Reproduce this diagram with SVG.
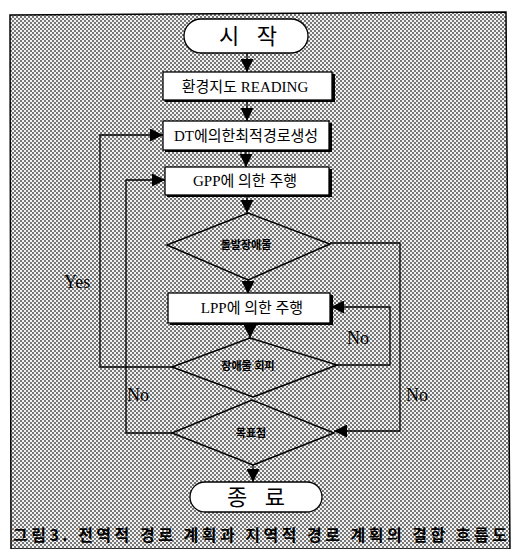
<svg xmlns="http://www.w3.org/2000/svg" width="512" height="549" viewBox="0 0 512 549">
<defs>
<pattern id="dots" width="4" height="4" patternUnits="userSpaceOnUse">
<rect width="4" height="4" fill="#f2f2f2"/>
<rect x="0" y="0" width="2" height="2" fill="#777"/>
<rect x="2" y="2" width="2" height="2" fill="#777"/>
</pattern>
<marker id="ah" viewBox="0 0 10 10" refX="10" refY="5" markerWidth="13" markerHeight="13" markerUnits="userSpaceOnUse" orient="auto">
<path d="M0,0 L10,5 L0,10 z" fill="#000"/>
</marker>
</defs>
<style>
.frame{fill:url(#dots);stroke:#000;stroke-width:1.5}
.box{fill:#fff;stroke:#000;stroke-width:1.3}
.shadow{fill:#000}
.dia{fill:none;stroke:#000;stroke-width:1.5}
.conn{fill:none;stroke:#000;stroke-width:1.3}
.arr{fill:none;stroke:#000;stroke-width:1.3;marker-end:url(#ah)}
.t{font-family:"Liberation Serif","Noto Sans CJK KR",serif;fill:#000;text-anchor:middle}
.big{font-size:22px;letter-spacing:6px}
.mid{font-size:15px}
.small{font-size:11px;font-weight:bold}
.lab{font-family:"Liberation Serif",serif;font-size:18px;fill:#000}
.cap{font-family:"Noto Sans CJK KR","Liberation Sans",sans-serif;font-size:16px;font-weight:bold;fill:#000}
</style>
<polygon class="frame" points="10,15 506,12 510,549 11,549"/>

<g id="connectors">
<line class="arr" x1="247" y1="53" x2="247" y2="72"/>
<line class="arr" x1="247" y1="100" x2="247" y2="121"/>
<line class="arr" x1="246" y1="150" x2="246" y2="167"/>
<line class="arr" x1="247" y1="195" x2="247" y2="213"/>
<line class="arr" x1="248" y1="280" x2="248" y2="294"/>
<line class="arr" x1="250" y1="323" x2="250" y2="338"/>
<line class="arr" x1="253" y1="465" x2="253" y2="482"/>
<polyline class="arr" points="172,367 100,367 100,135 163,135"/>
<polyline class="arr" points="172,433 126,433 126,180 165,180"/>
<polyline class="arr" points="330,243 400,243 400,431 334,431"/>
<polyline class="arr" points="337,365 390,365 390,307 331,307"/>
</g>

<g id="start">
<rect class="box" x="184" y="19" width="124" height="34" rx="17"/>
<text class="t big" x="251" y="44">시 작</text>
</g>
<g id="map">
<rect class="shadow" x="165" y="74" width="170" height="28"/>
<rect class="box" x="163" y="72" width="169" height="28"/>
<text class="t mid" x="245" y="92">환경지도 READING</text>
</g>
<g id="dt">
<rect class="shadow" x="165" y="123" width="167" height="29"/>
<rect class="box" x="163" y="121" width="166" height="29"/>
<text class="t mid" x="246" y="141">DT에의한최적경로생성</text>
</g>
<g id="gpp">
<rect class="shadow" x="167" y="169" width="165" height="28"/>
<rect class="box" x="165" y="167" width="164" height="28"/>
<text class="t mid" x="245" y="186">GPP에 의한 주행</text>
</g>
<g id="obstacle">
<polygon class="dia" points="248,213 330,244 248,280 167,245"/>
<text class="t small" x="246" y="249">돌발장애물</text>
</g>
<g id="lpp">
<rect class="shadow" x="170" y="295" width="163" height="30"/>
<rect class="box" x="168" y="293" width="162" height="30"/>
<text class="t mid" x="252" y="313">LPP에 의한 주행</text>
</g>
<g id="avoid">
<polygon class="dia" points="250,338 337,365 253,397 172,367"/>
<text class="t small" x="248" y="370">장애물 회피</text>
</g>
<g id="goal">
<polygon class="dia" points="252,400 334,433 253,465 172,433"/>
<text class="t small" x="251" y="437">목표점</text>
</g>
<g id="end">
<rect class="box" x="190" y="482" width="132" height="30" rx="15"/>
<text class="t big" x="259" y="505">종 료</text>
</g>

<text class="lab" x="64" y="288">Yes</text>
<text class="lab" x="347" y="344">No</text>
<text class="lab" x="127" y="401">No</text>
<text class="lab" x="406" y="401">No</text>
<text class="cap" x="13" y="541" textLength="494" lengthAdjust="spacing">그림3. 전역적 경로 계획과 지역적 경로 계획의 결합 흐름도</text>
</svg>
